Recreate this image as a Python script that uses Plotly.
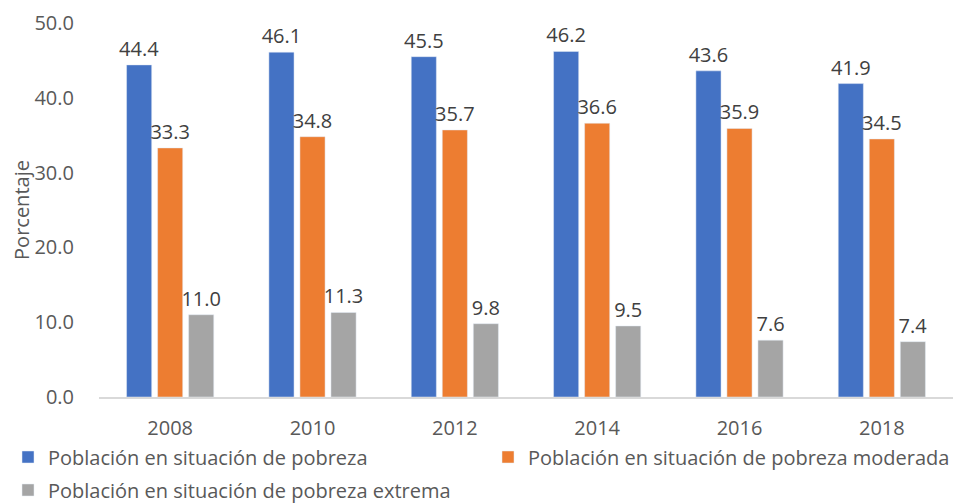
import plotly.graph_objects as go

years = ["2008", "2010", "2012", "2014", "2016", "2018"]
pobreza = [44.4, 46.1, 45.5, 46.2, 43.6, 41.9]
moderada = [33.3, 34.8, 35.7, 36.6, 35.9, 34.5]
extrema = [11.0, 11.3, 9.8, 9.5, 7.6, 7.4]
names = ["Población en situación de pobreza",
         "Población en situación de pobreza moderada",
         "Población en situación de pobreza extrema"]
colors = ["#4472C4", "#ED7D31", "#A5A5A5"]
legends = ["legend", "legend2", "legend3"]

FONT = "Open Sans"
fig = go.Figure()
for name, vals, col, lg in zip(names, [pobreza, moderada, extrema], colors, legends):
    fig.add_trace(go.Bar(
        x=years, y=vals, name=name, marker_color=col, legend=lg,
        text=[f"{v:.1f}" for v in vals], textposition="outside",
        constraintext="none",
        textfont=dict(family=FONT, size=20, color="#404040"),
        cliponaxis=False,
    ))

leg_common = dict(orientation="h", xref="container", yref="container",
                  xanchor="left", yanchor="middle",
                  font=dict(family=FONT, size=20, color="#595959"),
                  itemwidth=30, bgcolor="rgba(0,0,0,0)")

fig.update_layout(
    width=962, height=503,
    margin=dict(l=91, r=17, t=15, b=114, autoexpand=False),
    plot_bgcolor="white", paper_bgcolor="white",
    barmode="group", bargap=0.346, bargroupgap=0.19,
    font=dict(family=FONT, color="#595959", size=19),
    showlegend=True,
    legend=dict(x=0.0, y=1 - 449 / 503, **leg_common),
    legend2=dict(x=480 / 962, y=1 - 449 / 503, **leg_common),
    legend3=dict(x=0.0, y=1 - 482 / 503, **leg_common),
)
fig.update_xaxes(showline=True, linecolor="#D9D9D9", linewidth=2, automargin=False,
                 ticks="outside", ticklen=12, tickcolor="rgba(0,0,0,0)",
                 tickfont=dict(size=20, color="#595959"))
fig.update_yaxes(range=[0, 50], dtick=10, tickformat=".1f", showgrid=False,
                 zeroline=False, showline=False, automargin=False,
                 ticklabeloverflow="allow",
                 ticks="outside", ticklen=20, tickcolor="rgba(0,0,0,0)",
                 tickfont=dict(size=20, color="#595959"),
                 title=dict(text="Porcentaje", font=dict(size=20, color="#595959"), standoff=2))
fig.write_html("out.html")
